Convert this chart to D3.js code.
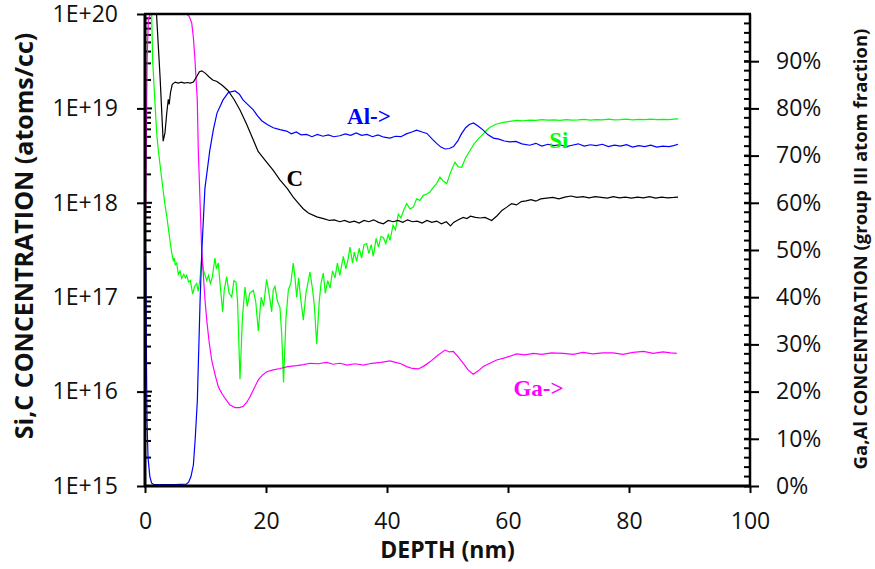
<!DOCTYPE html>
<html>
<head>
<meta charset="utf-8">
<script src="https://cdn.jsdelivr.net/npm/d3@7"></script>
<style>
  body { margin: 0; background: #fff; }
  svg text { font-family: "Open Sans", "Noto Sans", sans-serif; }
</style>
</head>
<body>
<div id="chart"></div>
<script>
// SIMS depth profile: Si, C on log axis (atoms/cc), Al, Ga on right axis (% of group III)
var depthTicks = [0, 20, 40, 60, 80, 100];
var concTicks = [1e15, 1e16, 1e17, 1e18, 1e19, 1e20];
var fracTicks = [0, 10, 20, 30, 40, 50, 60, 70, 80, 90];

// [depth nm, atoms/cc]
var carbon = [
  [0.6, 3e20], [1.9, 1.0e20], [2.5, 2.1e19], [3.0, 4.5e18], [3.3, 5.5e18], [3.6, 9e18], [3.85, 1.25e19],
  [4.0, 1.1e19], [4.2, 1.45e19], [4.5, 1.8e19], [5.0, 1.9e19], [5.5, 1.85e19], [6.0, 1.9e19], [6.5, 1.85e19],
  [7.0, 1.88e19], [7.5, 1.85e19], [8.0, 1.9e19], [8.5, 2.15e19], [9.0, 2.45e19], [9.4, 2.5e19], [10.0, 2.35e19],
  [10.6, 2.15e19], [11.2, 2.0e19], [11.9, 1.93e19], [12.8, 1.75e19], [13.7, 1.55e19], [14.7, 1.25e19],
  [15.7, 9.6e18], [16.8, 6.8e18], [17.8, 4.8e18], [18.7, 3.5e18], [19.9, 2.8e18], [21.2, 2.2e18],
  [22.3, 1.75e18], [23.5, 1.42e18], [24.5, 1.15e18], [25.3, 1.0e18], [26.1, 8.7e17], [27.0, 7.8e17],
  [28.4, 7.1e17], [29.5, 6.8e17], [30.5, 6.5e17], [31.3, 6.6e17], [32.2, 6.3e17], [33.0, 6.5e17],
  [33.8, 6.2e17], [34.6, 6.4e17], [35.4, 6.1e17], [36.2, 6.5e17], [37.0, 6.3e17], [37.8, 6.6e17],
  [38.6, 6.2e17], [39.4, 6.0e17], [40.2, 6.5e17], [41.0, 6.3e17], [41.8, 6.5e17], [42.6, 6.2e17],
  [43.4, 6.6e17], [44.2, 6.3e17], [45.0, 6.4e17], [45.8, 6.1e17], [46.6, 6.5e17], [47.4, 6.2e17],
  [48.2, 6.4e17], [49.0, 6.0e17], [49.8, 6.3e17], [50.5, 5.7e17], [51.0, 6.2e17], [51.8, 6.6e17],
  [52.6, 7.0e17], [53.2, 6.8e17], [53.8, 7.2e17], [54.6, 7.0e17], [55.4, 6.9e17], [56.2, 7.0e17],
  [57.3, 6.5e17], [58.2, 7.3e17], [59.0, 8.3e17], [59.8, 9.0e17], [60.6, 9.8e17], [61.4, 9.5e17],
  [62.2, 1.03e18], [63.0, 1.05e18], [63.8, 1.08e18], [64.6, 1.04e18], [65.4, 1.1e18], [66.4, 1.12e18],
  [67.4, 1.14e18], [68.4, 1.1e18], [69.4, 1.15e18], [70.4, 1.18e18], [71.4, 1.14e18], [72.4, 1.16e18],
  [73.4, 1.13e18], [74.4, 1.16e18], [75.4, 1.14e18], [76.4, 1.12e18], [77.4, 1.16e18], [78.4, 1.13e18],
  [79.4, 1.15e18], [80.4, 1.12e18], [81.4, 1.15e18], [82.4, 1.13e18], [83.4, 1.16e18], [84.4, 1.12e18],
  [85.4, 1.15e18], [86.4, 1.13e18], [87.4, 1.14e18], [88.1, 1.15e18]
];

var silicon = [
  [0.4, 4e20], [1.1, 1.0e20], [1.27, 3.2e19], [1.6, 1.3e19], [1.93, 5.5e18], [2.2, 3.6e18], [2.6, 2.2e18],
  [3.0, 1.35e18], [3.3, 9.5e17], [3.6, 7.2e17], [4.1, 4.1e17], [4.4, 3.0e17], [4.7, 2.4e17], [4.85, 2.6e17],
  [5.0, 2.2e17], [5.24, 2.3e17], [5.5, 1.75e17], [5.8, 1.9e17], [6.07, 1.58e17], [6.4, 1.75e17], [6.7, 1.6e17],
  [6.89, 1.7e17], [7.2, 1.45e17], [7.5, 1.5e17], [7.88, 1.08e17], [8.2, 1.3e17], [8.55, 1.4e17], [8.8, 1.15e17],
  [9.1, 1.6e17], [9.37, 2.6e17], [9.7, 1.9e17], [10.2, 1.5e17], [10.5, 1.7e17], [10.8, 1.4e17], [11.1, 1.6e17],
  [11.57, 2.6e17], [11.8, 2.0e17], [12.12, 2.3e17], [12.4, 1.4e17], [12.84, 7.0e16], [13.1, 1.2e17],
  [13.5, 1.65e17], [13.9, 1.1e17], [14.33, 1.0e17], [14.7, 1.5e17], [15.04, 1.45e17], [15.3, 9.0e16],
  [15.7, 1.35e16], [16.1, 6.0e16], [16.53, 1.28e17], [16.9, 8.0e16], [17.3, 1.1e17], [17.9, 1.18e17],
  [18.3, 9.0e16], [18.73, 4.4e16], [19.2, 1.0e17], [19.6, 8.0e16], [20.1, 1.55e17], [20.5, 1.1e17],
  [20.94, 7.0e16], [21.2, 1.2e17], [21.49, 1.3e17], [21.9, 9.0e16], [22.31, 7.8e16], [22.6, 4.0e16],
  [22.9, 1.25e16], [23.3, 6.0e16], [23.7, 1.2e17], [24.1, 1.4e17], [24.5, 2.3e17], [24.8, 1.6e17],
  [25.07, 1.0e17], [25.4, 1.6e17], [25.7, 1.0e17], [26.17, 5.7e16], [26.6, 1.1e17], [27.0, 1.5e17],
  [27.27, 1.85e17], [27.7, 1.2e17], [28.0, 8.0e16], [28.38, 3.2e16], [28.8, 9.0e16], [29.1, 1.4e17],
  [29.47, 1.8e17], [29.8, 1.1e17], [30.2, 1.5e17], [30.58, 1.25e17], [31.0, 1.9e17], [31.4, 1.6e17],
  [31.8, 2.3e17], [32.2, 1.7e17], [32.78, 2.7e17], [33.2, 2.0e17], [33.6, 2.6e17], [33.88, 3.4e17],
  [34.3, 2.3e17], [34.6, 3.0e17], [34.98, 2.4e17], [35.4, 3.3e17], [35.8, 2.6e17], [36.2, 3.6e17],
  [36.64, 3.7e17], [37.0, 2.9e17], [37.4, 3.6e17], [37.73, 2.7e17], [38.2, 4.2e17], [38.6, 3.4e17],
  [39.0, 4.4e17], [39.39, 4.3e17], [39.8, 3.7e17], [40.2, 4.6e17], [40.5, 4.0e17], [41.0, 5.8e17],
  [41.4, 5.2e17], [41.87, 7.6e17], [42.3, 6.9e17], [42.8, 8.5e17], [43.26, 9.8e17], [43.8, 8.6e17],
  [44.35, 9.0e17], [44.9, 1.1e18], [45.45, 1.06e18], [46.0, 1.2e18], [46.56, 1.24e18], [47.1, 1.3e18],
  [47.65, 1.46e18], [48.2, 1.6e18], [48.76, 1.87e18], [49.3, 1.7e18], [49.87, 1.59e18], [50.5, 2.1e18],
  [51.24, 2.69e18], [51.8, 2.4e18], [52.35, 2.38e18], [53.0, 3.0e18], [53.72, 3.58e18], [54.4, 4.2e18],
  [55.09, 4.76e18], [55.92, 5.38e18], [56.5, 5.9e18], [57.02, 6.3e18], [58.0, 6.8e18], [59.22, 7.1e18],
  [60.3, 7.3e18], [61.44, 7.45e18], [62.5, 7.4e18], [63.6, 7.5e18], [64.6, 7.45e18], [65.6, 7.6e18],
  [66.6, 7.5e18], [67.6, 7.55e18], [68.6, 7.45e18], [69.6, 7.6e18], [70.6, 7.5e18], [71.6, 7.55e18],
  [72.6, 7.65e18], [73.6, 7.5e18], [74.6, 7.6e18], [75.6, 7.55e18], [76.6, 7.7e18], [77.6, 7.55e18],
  [78.6, 7.6e18], [79.6, 7.7e18], [80.6, 7.55e18], [81.6, 7.65e18], [82.6, 7.6e18], [83.6, 7.7e18],
  [84.6, 7.6e18], [85.6, 7.65e18], [86.6, 7.6e18], [87.4, 7.7e18], [88.15, 7.75e18]
];

// [depth nm, % of group III]
var aluminum = [
  [0, 55], [0.15, 46], [0.25, 25], [0.35, 13], [0.5, 6], [0.8, 2], [1.1, 0.6], [1.5, 0.3], [3, 0.3], [5, 0.3],
  [6.8, 0.4], [7.2, 0.8], [7.6, 2], [8.0, 4.5], [8.3, 10], [8.65, 18], [9.1, 39], [9.4, 50], [9.9, 63],
  [10.7, 71], [11.3, 75.5], [11.9, 79], [12.9, 81.8], [13.8, 83.4], [14.9, 83.7], [15.6, 83], [16.2, 81.8],
  [17.0, 80.8], [17.9, 79.7], [18.6, 78.4], [19.3, 77.4], [20.2, 76.6], [21.2, 75.9], [22.3, 75.5],
  [23.4, 75.2], [24.2, 74.6], [25.0, 75.0], [25.8, 74.4], [26.7, 74.5], [27.6, 74.0], [28.5, 74.5],
  [29.4, 74.1], [30.3, 74.4], [31.2, 74.0], [32.2, 74.2], [33.1, 74.6], [34.0, 74.3], [34.9, 74.8],
  [35.8, 74.3], [36.7, 74.5], [37.6, 74.0], [38.5, 74.4], [39.5, 73.9], [40.5, 73.7], [41.4, 74.1],
  [42.3, 74.0], [43.2, 74.6], [44.1, 75.0], [44.9, 75.4], [45.8, 75.0], [46.6, 74.7], [47.4, 73.6],
  [48.2, 72.6], [48.9, 71.8], [49.6, 71.4], [50.3, 71.5], [51.0, 71.9], [51.7, 73.1], [52.3, 74.6],
  [53.0, 75.9], [53.6, 76.6], [54.3, 76.9], [55.1, 76.2], [55.9, 75.4], [56.7, 74.4], [57.6, 73.7],
  [58.5, 73.5], [59.4, 73.1], [60.3, 72.9], [61.3, 73.0], [62.3, 72.5], [63.6, 72.2], [64.6, 72.6],
  [65.6, 72.0], [66.6, 72.4], [67.6, 72.1], [68.6, 72.3], [69.6, 71.9], [70.6, 72.2], [71.6, 72.5],
  [72.6, 72.0], [73.6, 72.3], [74.6, 72.1], [75.6, 72.4], [76.6, 71.9], [77.6, 72.2], [78.6, 72.0],
  [79.6, 72.3], [80.6, 71.8], [81.6, 72.1], [82.6, 71.9], [83.6, 72.2], [84.6, 71.8], [85.6, 72.0],
  [86.6, 71.9], [87.4, 72.1], [88.1, 72.4]
];

var gallium = [
  [0, 52], [0.12, 60], [0.35, 90], [0.55, 99], [0.9, 100], [3, 100], [5, 100], [6.9, 100], [7.3, 99.5],
  [7.72, 98.1], [8.0, 95], [8.26, 90.3], [8.64, 81.8], [8.81, 71.2], [9.09, 60.6], [9.37, 50], [9.92, 39.4],
  [10.2, 35.2], [10.6, 30.5], [11.02, 26.7], [11.6, 23.5], [12.12, 21.0], [12.7, 19.6], [13.22, 18.6],
  [14.0, 17.2], [14.88, 16.6], [15.6, 16.6], [16.25, 16.9], [16.8, 17.7], [17.36, 18.9], [18.0, 20.6],
  [18.73, 22.5], [19.4, 23.5], [20.12, 24.2], [21.2, 24.6], [22.31, 24.9], [23.6, 25.3], [25.07, 25.5],
  [26.2, 25.7], [27.27, 26.0], [28.6, 25.9], [30.03, 26.2], [31.1, 25.8], [32.23, 26.0], [33.4, 25.6],
  [34.7, 25.9], [36.08, 25.6], [37.5, 26.0], [39.0, 26.2], [40.5, 26.5], [41.4, 26.2], [42.3, 25.9],
  [43.26, 25.3], [44.2, 24.9], [45.17, 24.8], [46.1, 25.4], [47.1, 26.3], [48.3, 27.6], [49.59, 28.8],
  [50.3, 28.4], [50.96, 28.5], [51.8, 27.3], [52.61, 26.0], [53.4, 24.6], [54.26, 23.7], [55.1, 24.4],
  [55.92, 25.3], [57.0, 26.0], [58.13, 26.7], [59.6, 27.2], [61.44, 28.0], [62.8, 27.8], [64.2, 28.1],
  [65.6, 27.9], [67.2, 28.2], [69.14, 28.1], [70.8, 27.9], [72.4, 28.3], [74.0, 28.0], [75.7, 28.2],
  [77.4, 28.2], [79.0, 27.9], [80.7, 28.3], [82.4, 28.5], [84.0, 28.1], [85.6, 28.4], [86.9, 28.2], [87.9, 28.1]
];

var svg = d3.select("#chart").append("svg")
  .attr("width", 875)
  .attr("height", 569);

var margin = {top: 14, right: 125, bottom: 83, left: 145},
  width = 875 - margin.left - margin.right,
  height = 569 - margin.top - margin.bottom,
  g = svg.append("g").attr("transform", "translate(" + margin.left + "," + margin.top + ")");

var x = d3.scaleLinear().domain([0, 100]).range([0, width]);
var yLog = d3.scaleLog().domain([1e15, 1e20]).range([height, 0]);
var yPct = d3.scaleLinear().domain([0, 100]).range([height, 0]);

g.append("clipPath").attr("id", "plotClip")
  .append("rect").attr("x", 0).attr("y", 0).attr("width", width).attr("height", height);

// minor ticks (inside the frame)
var logMinor = [];
concTicks.slice(0, -1).forEach(function(p) {
  for (var k = 2; k <= 9; k++) logMinor.push(p * k);
});
g.selectAll(".minL").data(logMinor).enter().append("line")
  .attr("x1", 0).attr("x2", 6)
  .attr("y1", function(d) { return yLog(d); }).attr("y2", function(d) { return yLog(d); })
  .attr("stroke", "#000").attr("stroke-width", 2);

g.selectAll(".minR").data(d3.range(0, 101, 2)).enter().append("line")
  .attr("x1", width - 6).attr("x2", width)
  .attr("y1", function(d) { return yPct(d); }).attr("y2", function(d) { return yPct(d); })
  .attr("stroke", "#000").attr("stroke-width", 2);

// major ticks crossing to the inside
g.selectAll(".majL").data(concTicks).enter().append("line")
  .attr("x1", 0).attr("x2", 7)
  .attr("y1", function(d) { return yLog(d); }).attr("y2", function(d) { return yLog(d); })
  .attr("stroke", "#000").attr("stroke-width", 2);

// data lines
var lineLog = d3.line().x(function(d) { return x(d[0]); }).y(function(d) { return yLog(d[1]); });
var linePct = d3.line().x(function(d) { return x(d[0]); }).y(function(d) { return yPct(d[1]); });
var lines = g.append("g").attr("clip-path", "url(#plotClip)");

lines.append("path").datum(silicon).attr("d", lineLog)
  .attr("fill", "none").attr("stroke", "#00ff00").attr("stroke-width", 1.2);
lines.append("path").datum(gallium).attr("d", linePct)
  .attr("fill", "none").attr("stroke", "#ff00ff").attr("stroke-width", 1.2);
lines.append("path").datum(aluminum).attr("d", linePct)
  .attr("fill", "none").attr("stroke", "#0000ff").attr("stroke-width", 1.2);
lines.append("path").datum(carbon).attr("d", lineLog)
  .attr("fill", "none").attr("stroke", "#000").attr("stroke-width", 1.2);

// axes
var axisL = g.append("g").call(d3.axisLeft(yLog).tickValues(concTicks).tickSize(8).tickPadding(19)
  .tickFormat(function(d) { return "1E+" + Math.round(Math.log10(d)); }));
var axisR = g.append("g").attr("transform", "translate(" + width + ",0)")
  .call(d3.axisRight(yPct).tickValues(fracTicks).tickSize(9).tickPadding(17)
  .tickFormat(function(d) { return d + "%"; }));
var axisB = g.append("g").attr("transform", "translate(0," + height + ")")
  .call(d3.axisBottom(x).tickValues(depthTicks).tickSize(7).tickFormat(d3.format("d")));

[axisL, axisR, axisB].forEach(function(a) {
  a.select(".domain").remove();
  a.selectAll(".tick line").attr("stroke-width", 2);
  a.selectAll("text").style("font-size", "23px").attr("fill", "#111")
    .style("font-family", "'Open Sans', 'Noto Sans', sans-serif");
});
axisR.selectAll(".tick line").attr("x1", -6);
axisB.selectAll("text").attr("y", 35).attr("dy", "0.35em");

// frame
g.append("line").attr("x1", 0).attr("x2", 0).attr("y1", 0).attr("y2", height)
  .attr("stroke", "#000").attr("stroke-width", 3);
g.append("line").attr("x1", width).attr("x2", width).attr("y1", 0).attr("y2", height)
  .attr("stroke", "#000").attr("stroke-width", 2.5);
g.append("line").attr("x1", -1).attr("x2", width + 1).attr("y1", 0).attr("y2", 0)
  .attr("stroke", "#000").attr("stroke-width", 2.5);
g.append("line").attr("x1", -1).attr("x2", width + 1).attr("y1", height).attr("y2", height)
  .attr("stroke", "#000").attr("stroke-width", 3);

// series labels
var serif = "'Liberation Serif', 'Times New Roman', serif";
function label(txt, d, v, scale, color) {
  g.append("text").attr("x", x(d)).attr("y", scale(v))
    .style("font-family", serif).style("font-weight", "bold").style("font-size", "23px")
    .attr("fill", color).text(txt);
}
label("Al->", 33.4, 76.7, yPct, "#0000ff");
label("Si", 66.8, 71.6, yPct, "#00ff00");
label("C", 23.4, 63.6, yPct, "#000");
label("Ga->", 60.9, 19.0, yPct, "#ff00ff");

// axis titles
svg.append("text")
  .attr("transform", "translate(33,236) rotate(-90)")
  .attr("text-anchor", "middle")
  .style("font-size", "25px").style("font-weight", "bold").attr("fill", "#111")
  .text("Si,C CONCENTRATION (atoms/cc)");

svg.append("text")
  .attr("transform", "translate(867,249) rotate(-90)")
  .attr("text-anchor", "middle")
  .style("font-size", "18.5px").style("font-weight", "bold").attr("fill", "#111")
  .text("Ga,Al CONCENTRATION (group III atom fraction)");

svg.append("text")
  .attr("x", margin.left + width / 2).attr("y", 558)
  .attr("text-anchor", "middle")
  .style("font-size", "23px").style("font-weight", "bold").attr("fill", "#111")
  .text("DEPTH (nm)");
</script>
</body>
</html>
